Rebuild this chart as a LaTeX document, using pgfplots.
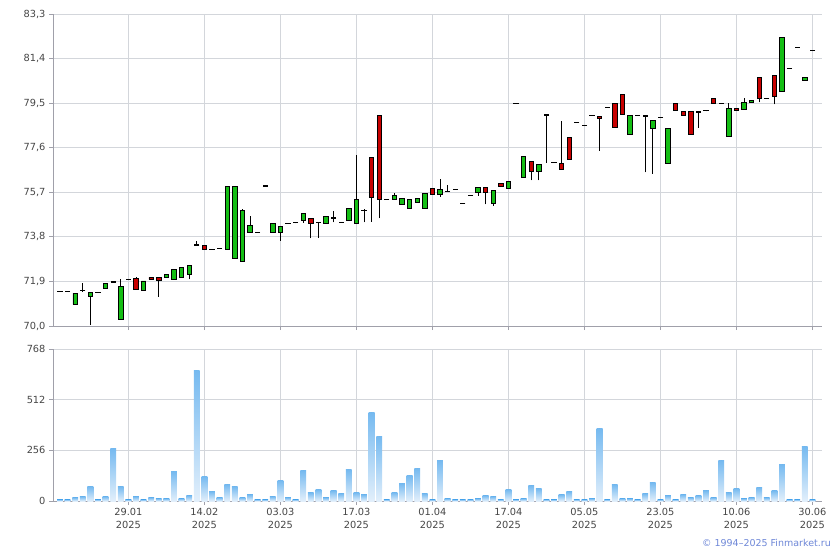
\documentclass[border=0pt]{standalone}
\usepackage{fontspec}
\setmainfont{DejaVu Sans}
\usepackage{pgfplots}
\pgfplotsset{compat=1.18}
\usepackage{pgfplotstable}

\definecolor{cgreen}{RGB}{20,190,20}
\definecolor{cred}{RGB}{200,0,0}
\definecolor{gridc}{RGB}{211,214,219}
\definecolor{axisc}{RGB}{160,160,170}
\definecolor{textc}{RGB}{70,70,70}
\definecolor{voltop}{RGB}{118,186,240}
\definecolor{volbot}{RGB}{226,239,251}
\definecolor{copyc}{RGB}{110,135,215}

\pgfplotstableread{
i b g r lo hi
0 71.48 0 0 71.48 71.48
1 71.48 0 0 71.48 71.48
2 70.92 0.47 0 70.92 71.39
3 71.52 0 0 71.46 71.82
4 71.25 0.19 0 70.04 71.44
5 71.44 0 0 71.44 71.44
6 71.59 0.23 0 71.59 71.82
7 71.87 0 0 71.87 71.93
8 70.29 1.40 0 70.29 71.99
9 71.99 0 0 71.99 71.99
10 71.56 0 0.47 71.56 72.07
11 71.52 0.40 0 71.52 71.92
12 71.99 0 0.08 71.99 72.07
13 71.95 0 0.12 71.25 72.07
14 72.07 0.13 0 72.07 72.20
15 71.99 0.43 0 71.99 72.42
16 72.07 0.43 0 72.07 72.50
17 72.20 0.39 0 71.99 72.59
18 73.45 0 0 73.45 73.62
19 73.27 0 0.17 73.27 73.44
20 73.27 0 0 73.27 73.27
21 73.29 0 0 73.29 73.33
22 73.27 2.68 0 73.27 75.95
23 72.88 3.07 0 72.88 75.95
24 72.76 2.17 0 72.76 74.97
25 73.98 0.31 0 73.98 74.68
26 73.99 0 0 73.99 73.99
27 75.97 0 0 75.97 75.97
28 73.99 0.37 0 73.99 74.36
29 73.99 0.26 0 73.63 74.25
30 74.37 0 0 74.37 74.37
31 74.42 0 0 74.37 74.42
32 74.49 0.31 0 74.40 74.80
33 74.37 0 0.22 73.74 74.59
34 74.42 0 0 73.76 74.42
35 74.37 0.30 0 74.37 74.67
36 74.60 0 0 74.42 74.89
37 74.42 0 0 74.42 74.42
38 74.50 0.51 0 74.50 75.01
39 74.37 1.03 0 74.37 77.29
40 74.91 0 0 74.42 74.98
41 75.48 0 1.71 74.44 77.19
42 75.40 0 3.58 74.59 78.98
43 75.40 0 0 75.40 75.40
44 75.40 0.17 0 75.40 75.68
45 75.19 0.25 0 75.19 75.44
46 75.01 0.39 0 75.01 75.40
47 75.27 0.17 0 75.27 75.44
48 75.01 0.64 0 75.01 75.65
49 75.61 0 0.26 75.61 75.87
50 75.61 0.21 0 75.51 76.25
51 75.74 0 0 75.74 75.99
52 75.82 0 0 75.82 75.82
53 75.23 0 0 75.23 75.23
54 75.57 0 0 75.57 75.57
55 75.70 0.21 0 75.55 75.91
56 75.70 0 0.21 75.19 75.91
57 75.21 0.57 0 75.13 75.78
58 75.95 0 0.13 75.95 76.08
59 75.87 0.30 0 75.87 76.17
60 79.49 0 0 79.49 79.49
61 76.34 0.89 0 76.34 77.23
62 76.59 0 0.43 76.21 77.02
63 76.59 0.30 0 76.21 76.89
64 78.99 0 0 76.97 78.99
65 76.97 0 0 76.97 76.97
66 76.68 0 0.25 76.68 78.75
67 77.10 0 0.94 77.10 78.04
68 78.68 0 0 78.68 78.68
69 78.55 0 0 78.55 78.55
70 78.98 0 0 78.98 78.98
71 78.83 0 0.11 77.47 78.94
72 79.32 0 0 79.32 79.32
73 78.47 0 1.02 78.47 79.49
74 79.02 0 0.85 79.02 79.87
75 78.17 0.81 0 78.17 78.98
76 78.98 0 0 78.98 78.98
77 78.94 0 0.04 76.55 78.98
78 78.42 0.33 0 76.49 78.75
79 78.89 0 0 78.89 78.89
80 76.93 1.49 0 76.93 78.42
81 79.19 0 0.30 79.19 79.49
82 78.98 0 0.17 78.98 79.15
83 78.17 0 0.98 78.17 79.15
84 79.11 0 0.04 78.45 79.15
85 79.19 0 0 79.15 79.19
86 79.49 0 0.21 79.49 79.70
87 79.49 0 0 79.49 79.49
88 78.08 1.20 0 78.08 79.49
89 79.19 0 0.09 79.19 79.28
90 79.23 0.30 0 79.23 79.70
91 79.53 0.09 0 79.53 79.62
92 79.70 0 0.90 79.53 80.60
93 79.70 0 0 79.70 79.70
94 79.79 0 0.89 79.45 80.68
95 80.00 2.30 0 80.00 82.30
96 80.98 0 0 80.98 80.98
97 81.87 0 0 81.87 81.87
98 80.45 0.15 0 80.45 80.60
99 81.75 0 0 81.75 81.75
}\candles

% open = close (doji) sessions
\pgfplotstableread{
i p
0 71.48
1 71.48
3 71.52
5 71.44
7 71.87
9 71.99
18 73.45
20 73.27
21 73.29
26 73.99
27 75.97
30 74.37
31 74.42
34 74.42
36 74.60
37 74.42
40 74.91
43 75.40
51 75.74
52 75.82
53 75.23
54 75.57
60 79.49
64 78.99
65 76.97
68 78.68
69 78.55
70 78.98
72 79.32
76 78.98
79 78.89
85 79.19
87 79.49
93 79.70
96 80.98
97 81.87
99 81.75
}\doji

\pgfplotstableread{
i v
0 7
1 7
2 17
3 22
4 72
5 7
6 22
7 264
8 72
9 7
10 22
11 7
12 17
13 12
14 12
15 148
16 12
17 27
18 658
19 123
20 47
21 17
22 82
23 72
24 17
25 32
26 7
27 7
28 22
29 103
30 17
31 7
32 153
33 42
34 57
35 17
36 52
37 37
38 158
39 42
40 32
41 446
42 325
43 7
44 42
45 88
46 128
47 163
48 37
49 7
50 204
51 12
52 7
53 7
54 7
55 12
56 27
57 22
58 7
59 57
60 7
61 12
62 77
63 62
64 7
65 7
66 32
67 47
68 7
69 7
70 12
71 365
72 7
73 82
74 12
75 12
76 7
77 37
78 93
79 7
80 27
81 7
82 32
83 17
84 27
85 52
86 17
87 204
88 42
89 62
90 12
91 17
92 67
93 17
94 52
95 183
96 7
97 7
98 274
99 7
}\vol

\pgfplotsset{
  base/.style={
    scale only axis, width=769pt, anchor=north west,
    xmin=-0.92, xmax=100.26,
    xtick={9,19,29,39,49,59,69,79,89,99},
    /pgf/number format/assume math mode=true,
  },
  deco/.style={
    grid=major, grid style={gridc, line width=0.9pt},
    axis x line*=bottom, axis y line*=left,
    axis line style={axisc, line width=1pt, -},
    tick style={axisc, line width=0.9pt},
    tick align=outside, major tick length=4pt,
    ticklabel style={font=\fontsize{9.8}{13}\selectfont, text=textc},
  },
}

\begin{document}
\begin{tikzpicture}[x=1pt,y=1pt]
\path[use as bounding box] (0,0) rectangle (840,-550);

% price panel: grid, ticks, wicks, doji dashes
\begin{axis}[base, deco, at={(53pt,-14pt)}, height=312pt,
  ymin=70, ymax=83.3,
  ytick={70,71.9,73.8,75.7,77.6,79.5,81.4,83.3},
  yticklabels={{70,0},{71,9},{73,8},{75,7},{77,6},{79,5},{81,4},{83,3}},
  xticklabels={},
]
\addplot[draw=none, mark=none, forget plot,
  error bars/.cd, y dir=plus, y explicit, error mark=none,
  error bar style={draw=black, line width=0.9pt}]
  table[x=i, y=lo, y error expr=\thisrow{hi}-\thisrow{lo}] {\candles};
\addplot[only marks, mark=-, mark size=2.6pt,
  mark options={draw=black, line width=1.3pt}]
  table[x=i, y=p] {\doji};
\end{axis}

% price panel: candle bodies
\begin{axis}[base, at={(53pt,-14pt)}, height=312pt,
  ymin=70, ymax=83.3, hide axis,
  ybar stacked, bar width=4.4pt,
]
\addplot[draw=none, fill=none] table[x=i, y=b] {\candles};
\addplot[draw=black, fill=cgreen, line width=0.8pt] table[x=i, y=g] {\candles};
\addplot[draw=black, fill=cred, line width=0.8pt] table[x=i, y=r] {\candles};
\end{axis}

% volume panel
\begin{axis}[base, deco, at={(53pt,-349pt)}, height=152pt,
  ymin=0, ymax=768, ytick={0,256,512,768},
  yticklabels={0,256,512,768},
  xticklabels={{29.01\\2025},{14.02\\2025},{03.03\\2025},{17.03\\2025},{01.04\\2025},{17.04\\2025},{05.05\\2025},{23.05\\2025},{10.06\\2025},{30.06\\2025}},
  xticklabel style={align=center},
]
\addplot[scatter, only marks, mark=square*, mark size=0pt,
  mark options={draw=none, fill=none},
  visualization depends on={rawy \as \vv},
  scatter/@pre marker code/.code={%
    \begingroup\pgfkeys{/pgf/fpu=false}%
    \shade[draw=none, top color=voltop, bottom color=volbot]
      (-2.9pt,0pt) rectangle (2.9pt,{-\vv*0.197917pt});%
    \endgroup},
  scatter/@post marker code/.code={},
] table[x=i, y=v] {\vol};
\end{axis}

\node[anchor=east, text=copyc, font=\fontsize{9.5}{12}\selectfont, inner sep=0pt]
  at (831,-543) {© 1994–2025 Finmarket.ru};
\end{tikzpicture}
\end{document}
